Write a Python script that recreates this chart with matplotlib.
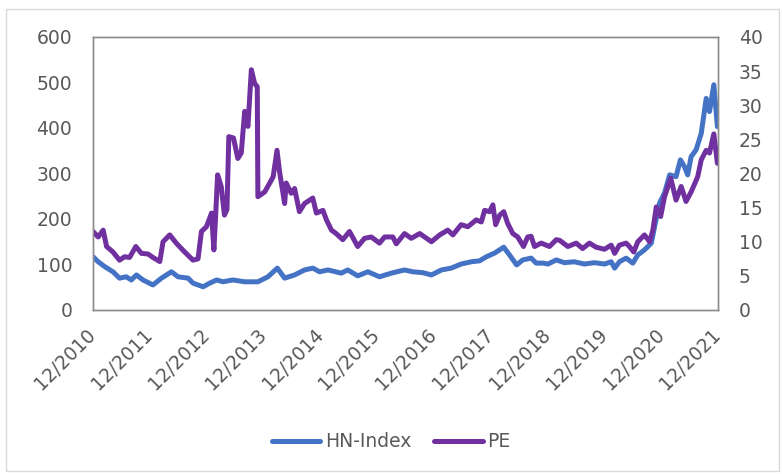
import numpy as np
import pandas as pd
import matplotlib
matplotlib.use("Agg")
import matplotlib.pyplot as plt
import matplotlib.dates as mdates
from matplotlib.patches import Rectangle

# ---------------------------------------------------------------
#  data
# ---------------------------------------------------------------
hnx_dates = [
    "2010-12-01", "2011-01-03", "2011-02-15", "2011-04-08", "2011-05-20", "2011-07-02",
    "2011-08-04", "2011-09-06", "2011-10-18", "2011-12-21", "2012-02-14", "2012-04-18",
    "2012-05-30", "2012-08-03", "2012-09-04", "2012-11-08", "2012-12-20", "2013-02-03",
    "2013-03-15", "2013-05-18", "2013-08-02", "2013-10-26", "2013-12-30", "2014-02-28",
    "2014-04-16", "2014-06-19", "2014-08-22", "2014-10-14", "2014-11-27", "2015-01-20",
    "2015-04-15", "2015-05-27", "2015-07-30", "2015-10-03", "2015-12-17", "2016-03-02",
    "2016-05-26", "2016-07-18", "2016-09-21", "2016-11-15", "2017-01-18", "2017-03-22",
    "2017-05-25", "2017-07-29", "2017-09-21", "2017-11-03", "2017-12-26", "2018-02-23",
    "2018-04-01", "2018-05-17", "2018-06-25", "2018-08-18", "2018-09-20", "2018-11-02",
    "2018-12-04", "2019-01-27", "2019-03-20", "2019-05-23", "2019-07-26", "2019-09-29",
    "2019-12-03", "2020-01-15", "2020-02-06", "2020-03-08", "2020-04-20", "2020-06-02",
    "2020-07-04", "2020-08-16", "2020-09-29", "2020-10-20", "2020-11-21", "2020-12-23",
    "2021-01-25", "2021-03-07", "2021-04-04", "2021-04-30", "2021-05-21", "2021-06-12",
    "2021-07-14", "2021-08-16", "2021-09-17", "2021-10-08", "2021-11-05", "2021-11-28",
]
hnx_values = [
    117, 106, 95, 84, 70, 73,
    66, 77, 66, 55, 70, 84,
    73, 70, 59, 51, 59, 66,
    62, 66, 62, 62, 73, 92,
    70, 77, 88, 92, 84, 88,
    81, 88, 75, 84, 73, 81,
    88, 84, 82, 77, 88, 92,
    101, 106, 108, 117, 125, 138,
    121, 99, 110, 114, 103, 103,
    101, 110, 104, 106, 101, 104,
    101, 106, 92, 106, 114, 103,
    121, 132, 147, 183, 235, 257,
    297, 293, 330, 315, 297, 337,
    352, 388, 465, 436, 495, 403,
]

pe_dates = [
    "2010-12-01", "2011-01-03", "2011-02-04", "2011-02-26", "2011-04-08", "2011-05-20",
    "2011-06-22", "2011-07-24", "2011-09-02", "2011-10-08", "2011-11-20", "2011-12-21",
    "2012-02-03", "2012-02-24", "2012-04-07", "2012-05-19", "2012-07-12", "2012-09-04",
    "2012-10-06", "2012-10-28", "2012-11-29", "2013-01-01", "2013-01-16", "2013-01-28",
    "2013-02-09", "2013-03-04", "2013-03-25", "2013-04-10", "2013-04-22", "2013-05-22",
    "2013-06-19", "2013-07-11", "2013-08-02", "2013-08-23", "2013-09-14", "2013-10-05",
    "2013-10-22", "2013-10-26", "2013-12-09", "2014-01-10", "2014-02-01", "2014-02-26",
    "2014-03-14", "2014-04-16", "2014-04-26", "2014-05-28", "2014-06-19", "2014-07-20",
    "2014-08-22", "2014-10-14", "2014-11-06", "2014-12-18", "2015-01-10", "2015-02-11",
    "2015-03-13", "2015-04-25", "2015-06-07", "2015-07-30", "2015-09-12", "2015-10-25",
    "2015-12-17", "2016-01-19", "2016-03-12", "2016-04-03", "2016-05-26", "2016-07-08",
    "2016-09-01", "2016-10-02", "2016-11-15", "2017-01-07", "2017-02-28", "2017-04-02",
    "2017-05-25", "2017-07-07", "2017-08-30", "2017-10-02", "2017-10-23", "2017-11-24",
    "2017-12-15", "2018-01-02", "2018-01-28", "2018-02-23", "2018-03-20", "2018-04-22",
    "2018-05-24", "2018-06-30", "2018-07-27", "2018-08-18", "2018-09-09", "2018-10-22",
    "2018-12-14", "2019-01-27", "2019-02-18", "2019-04-11", "2019-06-04", "2019-07-15",
    "2019-08-28", "2019-10-10", "2019-12-03", "2020-01-15", "2020-02-06", "2020-03-08",
    "2020-04-20", "2020-05-11", "2020-06-08", "2020-07-04", "2020-08-16", "2020-09-18",
    "2020-10-09", "2020-10-31", "2020-11-28", "2020-12-23", "2021-02-01", "2021-03-07",
    "2021-04-09", "2021-05-10", "2021-06-12", "2021-07-24", "2021-08-16", "2021-09-17",
    "2021-10-08", "2021-11-05", "2021-11-28",
]
pe_values = [
    11.5, 10.7, 11.7, 9.3, 8.5, 7.3,
    7.8, 7.7, 9.3, 8.3, 8.2, 7.7,
    7.1, 10.0, 11.0, 9.8, 8.5, 7.3,
    7.5, 11.5, 12.2, 14.2, 8.8, 14.2,
    19.8, 18.1, 13.9, 14.7, 25.4, 25.2,
    22.2, 23.0, 29.1, 26.9, 35.2, 33.2,
    32.7, 16.6, 17.3, 18.6, 19.5, 23.4,
    20.3, 15.6, 18.6, 17.1, 17.8, 14.4,
    15.6, 16.4, 14.2, 14.6, 13.2, 11.7,
    11.2, 10.3, 11.5, 9.3, 10.5, 10.7,
    9.8, 10.7, 10.7, 9.7, 11.2, 10.5,
    11.2, 10.7, 10.0, 11.0, 11.7, 11.0,
    12.5, 12.2, 13.2, 12.9, 14.6, 14.4,
    15.4, 12.5, 13.9, 14.4, 12.7, 11.2,
    10.7, 9.3, 10.7, 10.8, 9.3, 9.8,
    9.3, 10.3, 10.2, 9.3, 9.8, 9.0,
    9.8, 9.2, 8.9, 9.5, 8.3, 9.5,
    9.8, 9.3, 8.5, 10.0, 11.0, 10.0,
    11.7, 15.1, 13.7, 16.6, 19.3, 16.1,
    18.1, 15.9, 17.3, 19.5, 22.0, 23.4,
    23.0, 25.8, 21.5,
]

tick_years = list(range(2010, 2022))
left_ticks = [0, 100, 200, 300, 400, 500, 600]
right_ticks = [0, 5, 10, 15, 20, 25, 30, 35, 40]

# ---------------------------------------------------------------
#  figure
# ---------------------------------------------------------------
BLUE = "#4472C4"
PURPLE = "#7030A0"
TXT = "#595959"

plt.rcParams["font.family"] = ["DejaVu Sans"]

fig = plt.figure(figsize=(7.82, 4.74), dpi=100)
ax = fig.add_axes([0.119, 0.346, 0.799, 0.576])
ax2 = ax.twinx()

ax.plot(pd.to_datetime(hnx_dates), hnx_values, color=BLUE, lw=3.6,
        solid_capstyle="round", solid_joinstyle="round", label="HN-Index")
ax2.plot(pd.to_datetime(pe_dates), pe_values, color=PURPLE, lw=3.6,
         solid_capstyle="round", solid_joinstyle="round", label="PE")

ax.set_xlim(pd.Timestamp("2010-12-01"), pd.Timestamp("2021-12-01"))
ax.set_ylim(0, 600)
ax2.set_ylim(0, 40)
ax.set_yticks(left_ticks)
ax2.set_yticks(right_ticks)

ticks = [pd.Timestamp(f"{y}-12-01") for y in tick_years]
ax.set_xticks(ticks)
ax.set_xticklabels([f"12/{y}" for y in tick_years], rotation=45,
                   ha="right", va="center", rotation_mode="anchor")

for a in (ax, ax2):
    for s in a.spines.values():
        s.set_color("#8c8c8c")
        s.set_linewidth(1.0)
    a.tick_params(length=0, labelsize=13.5, labelcolor=TXT)
ax.tick_params(axis="y", pad=15)
ax2.tick_params(axis="y", pad=15)
ax.tick_params(axis="x", pad=16)

h1, l1 = ax.get_legend_handles_labels()
h2, l2 = ax2.get_legend_handles_labels()
leg = fig.legend(h1 + h2, l1 + l2, loc="center", bbox_to_anchor=(0.5, 0.068),
                 ncol=2, frameon=False, fontsize=13.5, handlelength=2.6,
                 handletextpad=0.25, columnspacing=1.2)
for t in leg.get_texts():
    t.set_color(TXT)

# light outer border like the spreadsheet chart area
fig.patches.append(Rectangle((6 / 782, 3 / 474), 773 / 782, 462 / 474,
                             transform=fig.transFigure, fill=False,
                             edgecolor="#d9d9d9", linewidth=1.0))

fig.savefig("out.png", dpi=100)
